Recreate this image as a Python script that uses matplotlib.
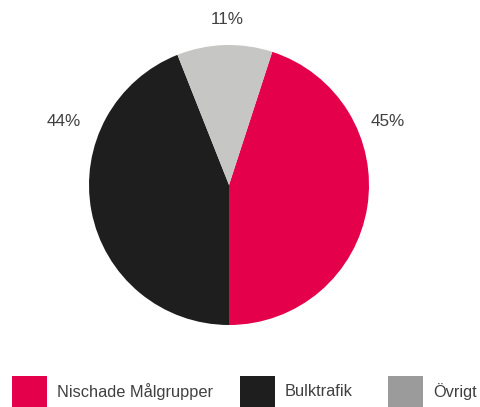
import matplotlib.pyplot as plt
from matplotlib.patches import Rectangle

categories = ['Nischade Målgrupper', 'Bulktrafik', 'Övrigt']
shares = [45, 44, 11]
pie_colors = ['#E4004B', '#1E1E1E', '#C6C6C4']
legend_colors = ['#E4004B', '#1E1E1E', '#9B9B9B']

plt.rcParams['font.family'] = ['Liberation Sans', 'DejaVu Sans']
text_color = '#404040'

fig = plt.figure(figsize=(4.8, 4.07), dpi=100)
ax = fig.add_axes([0, 0, 1, 1])

# pie in pixel-like data units, red slice ends at the bottom
center = (229, 222)
radius = 140
wedges, _ = ax.pie(shares, colors=pie_colors, radius=radius, center=center,
                   startangle=72, counterclock=False, frame=True,
                   wedgeprops=dict(linewidth=0))
ax.set_xlim(0, 480)
ax.set_ylim(0, 407)
ax.set_aspect('equal')
ax.axis('off')

# percentage labels placed around the pie
label_pos = [(388, 285), (64, 285), (227, 387)]
for val, (x, y) in zip(shares, label_pos):
    ax.text(x, y, f'{val}%', ha='center', va='center',
            fontsize=12.3, color=text_color)

# legend row along the bottom edge
legend_x = [12, 240, 388]
for name, col, x in zip(categories, legend_colors, legend_x):
    ax.add_patch(Rectangle((x, 0), 35, 31, facecolor=col, edgecolor='none',
                           clip_on=False))
    ax.text(x + 45, 15.5, name, ha='left', va='center',
            fontsize=11.8, color=text_color)

fig.savefig('out.png', dpi=100)
